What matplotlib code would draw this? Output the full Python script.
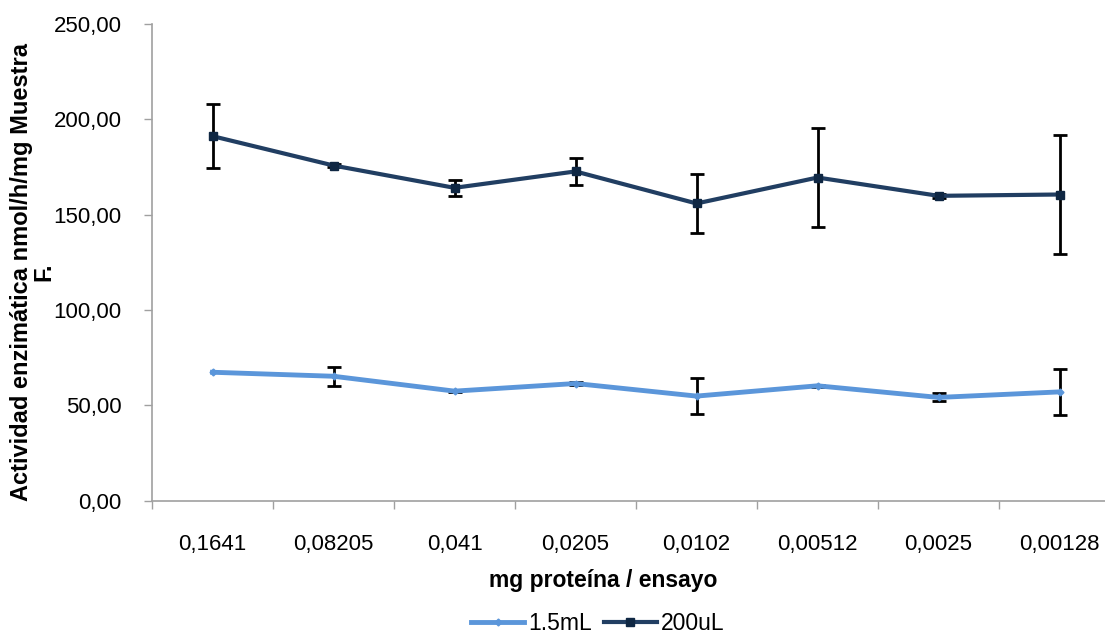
import matplotlib
matplotlib.use("Agg")
import matplotlib.pyplot as plt
from matplotlib.ticker import FuncFormatter

categories = ["0,1641", "0,08205", "0,041", "0,0205", "0,0102", "0,00512", "0,0025", "0,00128"]
s15_vals = [67.4, 65.3, 57.5, 61.5, 54.9, 60.3, 54.2, 57.1]
s15_err = [0.0, 5.0, 0.4, 0.6, 9.6, 0.5, 2.1, 12.0]
s200_vals = [191.2, 175.8, 164.1, 172.7, 155.9, 169.5, 159.9, 160.6]
s200_err = [16.6, 1.0, 4.2, 7.2, 15.5, 25.8, 1.0, 31.3]
series_names = ["1.5mL", "200uL"]

plt.rcParams['font.family'] = ['Liberation Sans', 'DejaVu Sans']

fig = plt.figure(figsize=(11.05, 6.38), dpi=100)
ax = fig.add_axes([152/1105, 1-500.8/638, (1120-152)/1105, (500.8-24)/638])

x = list(range(len(categories)))
light = "#5B96DA"
dark = "#213E62"

for vals, errs in [(s15_vals, s15_err), (s200_vals, s200_err)]:
    idx = [i for i in x if errs[i] > 0]
    ax.errorbar(idx, [vals[i] for i in idx], yerr=[errs[i] for i in idx], fmt="none",
                ecolor="black", elinewidth=2, capsize=5, capthick=2, zorder=2)

ax.plot(x, s15_vals, color=light, lw=3.5, marker="D", ms=3.5, mfc=light, mec=light,
        label=series_names[0], zorder=3)
ax.plot(x, s200_vals, color=dark, lw=3, marker="s", ms=6, mfc="#0F2743", mec="#0F2743",
        label=series_names[1], zorder=3)

ax.set_xlim(-0.5, len(categories) - 0.5)
ax.set_ylim(0, 250)
ax.set_yticks([0, 50, 100, 150, 200, 250])
ax.yaxis.set_major_formatter(FuncFormatter(lambda v, p: f"{v:.2f}".replace(".", ",")))
ax.set_xticks(x)
ax.set_xticklabels(categories)
ax.set_xticks([i + 0.5 for i in range(-1, len(categories))], minor=True)
ax.tick_params(axis="x", which="major", length=0, labelsize=16, pad=24)
ax.tick_params(axis="x", which="minor", length=6, color="#A0A0A0", width=1)
ax.tick_params(axis="y", length=6, color="#A0A0A0", width=1, labelsize=16, pad=16)

for sp in ["top", "right"]:
    ax.spines[sp].set_visible(False)
for sp in ["left", "bottom"]:
    ax.spines[sp].set_color("#A0A0A0")
    ax.spines[sp].set_linewidth(1.2)

fig.text(33/1105, 1-272/638, "Actividad enzimática nmol/h/mg Muestra\nF.", rotation=90,
         ha="center", va="center", fontsize=17, fontweight="bold", linespacing=0.95)
fig.text(603/1105, 1-581/638, "mg proteína / ensayo", ha="center", va="center",
         fontsize=16.5, fontweight="bold")

leg = fig.legend(loc="center", bbox_to_anchor=(598/1105, 1-624/638), ncol=2, frameon=False,
                 fontsize=16.5, handlelength=2.3, columnspacing=0.5, handletextpad=0.2,
                 borderpad=0, borderaxespad=0)

fig.savefig("out.png", dpi=100)
